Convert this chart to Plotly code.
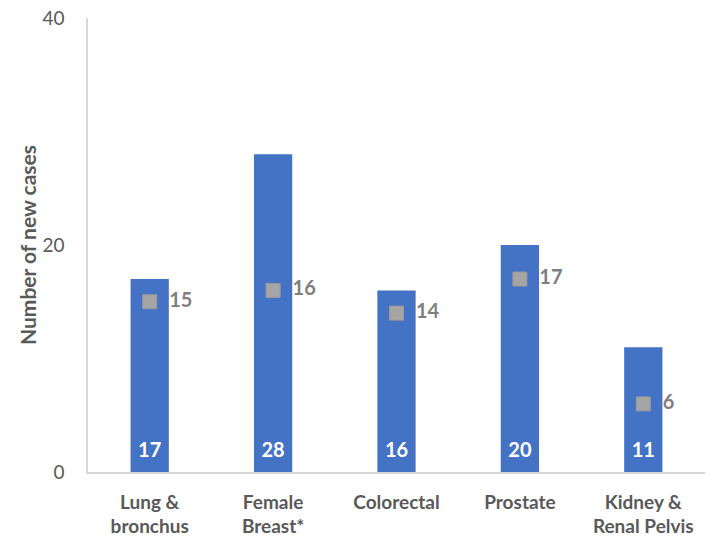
import plotly.graph_objects as go

categories = ["Lung &<br>bronchus", "Female<br>Breast*", "Colorectal", "Prostate", "Kidney &<br>Renal Pelvis"]
new_cases = [17, 28, 16, 20, 11]
expected_cases = [15, 16, 14, 17, 6]

FONT = "Lato, Carlito, Calibri, sans-serif"

fig = go.Figure()

fig.add_trace(go.Bar(
    x=categories,
    y=new_cases,
    marker=dict(color="#4472C4", line=dict(width=0)),
    width=0.31,
    showlegend=False,
    hoverinfo="x+y",
))

# count labels placed just above each bar's base
fig.add_trace(go.Scatter(
    x=categories,
    y=[0] * len(new_cases),
    mode="markers+text",
    marker=dict(size=14, opacity=0),
    text=[str(v) for v in new_cases],
    textposition="top center",
    textfont=dict(family=FONT, size=20, color="white", weight="bold"),
    showlegend=False,
    hoverinfo="skip",
    cliponaxis=False,
))

fig.add_trace(go.Scatter(
    x=categories,
    y=expected_cases,
    mode="markers+text",
    marker=dict(symbol="square", size=14, color="#A5A5A5",
                line=dict(color="#9A9A9A", width=1)),
    text=[f"\u00a0\u00a0{v}" for v in expected_cases],
    textposition="middle right",
    textfont=dict(family=FONT, size=20, color="#7F7F7F", weight="bold"),
    showlegend=False,
    cliponaxis=False,
))

fig.update_layout(
    width=712,
    height=538,
    margin=dict(l=88, r=7, t=18, b=66),
    paper_bgcolor="white",
    plot_bgcolor="white",
    font=dict(family=FONT, color="#595959"),
    bargap=0.69,
    xaxis=dict(
        showgrid=False,
        showline=True,
        linecolor="#D9D9D9",
        linewidth=1.5,
        ticks="",
        automargin=False,
        ticklabelstandoff=12,
        tickfont=dict(family=FONT, size=19, color="#595959", weight="bold"),
    ),
    yaxis=dict(
        range=[0, 40],
        tickvals=[0, 20, 40],
        showgrid=False,
        zeroline=False,
        showline=True,
        linecolor="#D9D9D9",
        linewidth=1.5,
        ticks="",
        automargin=False,
        ticklabelstandoff=18,
        tickfont=dict(family=FONT, size=19, color="#595959"),
        title=dict(text="Number of new cases", standoff=0,
                   font=dict(family=FONT, size=21, color="#595959", weight="bold")),
    ),
)

fig.write_html("out.html")
